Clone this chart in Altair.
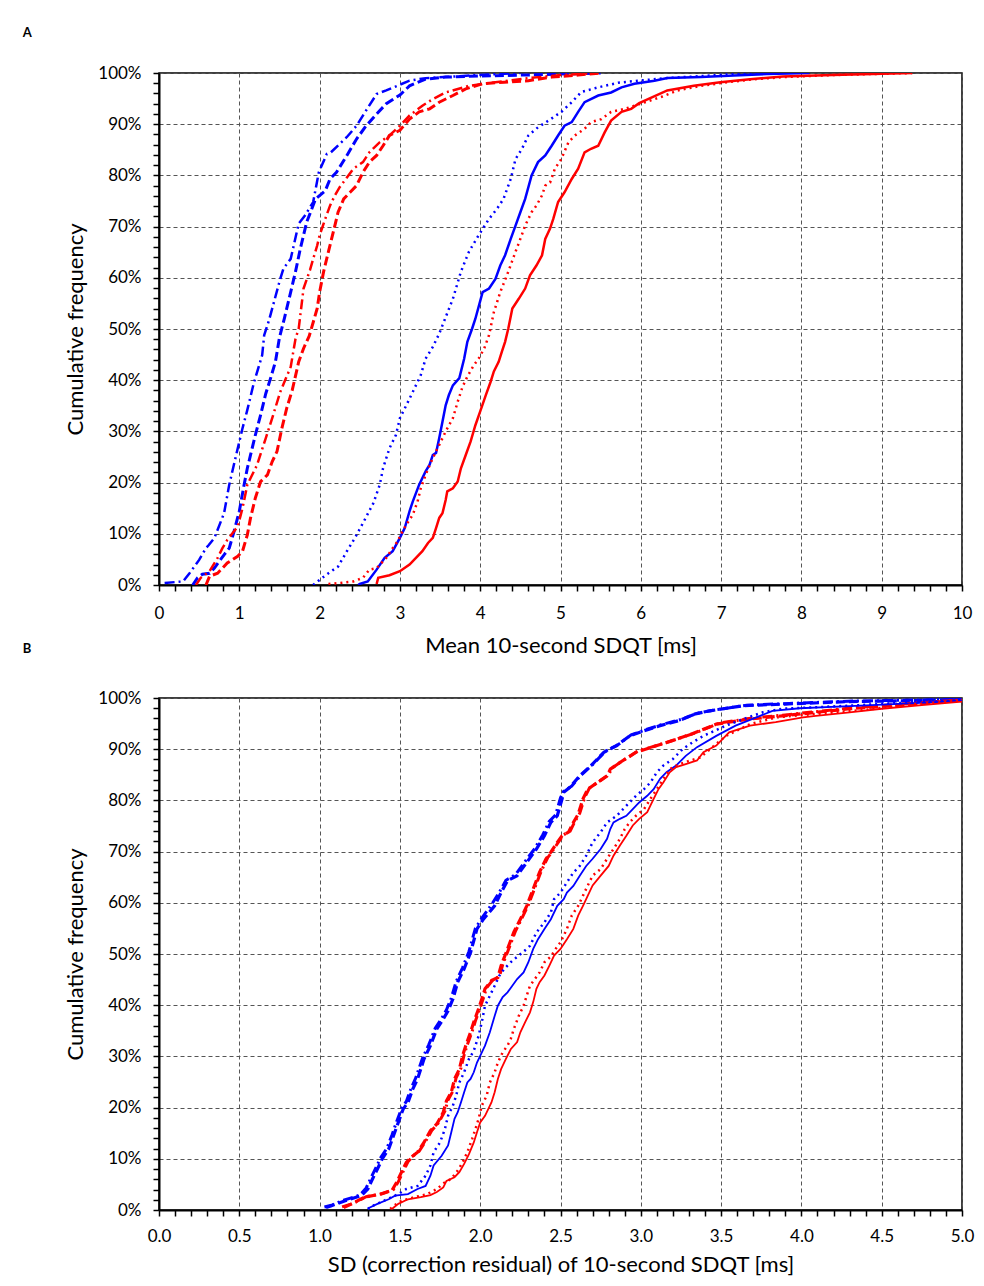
import altair as alt
import pandas as pd

# ---------------- Panel A: Mean 10-second SDQT [ms] ----------------
A_blue_dashdot_x = [0.07,0.30,0.38,0.50,0.585,0.62,0.69,0.81,0.875,0.955,1.04,1.10,1.18,1.285,1.31,1.37,1.51,1.55,1.64,1.74,1.82,1.92,1.99,2.09,2.14,2.34,2.46,2.58,2.71,2.83,3.12,3.32,3.98,4.5]
A_blue_dashdot_y = [0.4,0.7,2.3,4.9,7.2,7.8,9.2,14,19.6,25,30.6,34.2,39.4,44.9,48.8,51.7,59.8,61.8,63.7,70.6,72.2,74.8,80.6,84.2,84.5,87.5,89.7,92.7,95.9,96.6,98.5,99,99.6,100]

A_blue_dash_x = [0.42,0.48,0.54,0.63,0.69,0.81,0.875,0.935,1.00,1.06,1.10,1.14,1.20,1.265,1.33,1.39,1.45,1.50,1.56,1.62,1.70,1.76,1.84,1.95,2.07,2.13,2.21,2.34,2.46,2.58,2.71,2.83,3.00,3.12,3.32,3.57,3.98,4.8,5.5]
A_blue_dash_y = [0,1.4,2.1,2.3,3.3,5.9,7.2,10.5,14.4,19.6,22.8,25.4,29.3,33.2,37.4,40.4,43.6,48.3,52.0,55.9,61.2,65.7,70.9,75.4,77.0,79.3,80.6,83.9,87.1,89.7,92.0,94.0,95.7,97.5,98.8,99.2,99.4,99.7,100]

A_red_dashdot_x = [0.46,0.52,0.63,0.73,0.79,0.85,0.915,0.98,1.04,1.10,1.22,1.33,1.41,1.51,1.64,1.70,1.74,1.80,1.88,1.92,1.97,2.00,2.07,2.13,2.19,2.25,2.34,2.42,2.54,2.62,2.75,2.87,3.00,3.12,3.28,3.41,3.57,3.86,4.19,4.60,5.00,5.46]
A_red_dashdot_y = [0,1.4,2.7,5.3,7.2,8.8,10.1,11.4,15.0,19.6,23.4,28.7,32.6,37.7,42.6,48.1,50.1,57.9,61.5,63.7,66.3,68.3,71.5,74.1,76.1,77.7,79.6,81.3,82.6,84.5,86.5,87.8,89.7,91.7,93.6,94.9,96.2,97.5,98.2,99.0,99.6,100]

A_red_dash_x = [0.585,0.63,0.73,0.85,0.98,1.04,1.10,1.14,1.20,1.265,1.35,1.41,1.47,1.53,1.59,1.66,1.74,1.80,1.87,1.97,2.00,2.05,2.11,2.17,2.23,2.30,2.38,2.46,2.54,2.62,2.71,2.79,2.87,3.00,3.12,3.24,3.37,3.49,3.66,3.82,4.03,4.30,4.60,4.89,5.22,5.50]
A_red_dash_y = [0,1.7,2.3,4.3,5.6,6.6,9.8,13.1,17.0,20.2,21.5,24.1,26.1,30.6,34.5,38.1,43.6,46.2,48.6,54.0,57.2,61.2,65.1,68.9,72.8,75.4,76.7,78.0,80.6,82.6,83.9,85.8,87.8,88.8,91.0,92.4,93.0,94.3,95.6,96.9,97.9,98.2,98.5,99.2,99.6,100]

A_blue_dot_x = [1.92,2.00,2.11,2.23,2.34,2.44,2.56,2.67,2.75,2.79,2.87,2.95,3.00,3.08,3.16,3.26,3.32,3.41,3.49,3.53,3.66,3.76,3.86,3.98,4.11,4.21,4.29,4.38,4.44,4.52,4.60,4.72,4.85,5.01,5.14,5.26,5.47,5.72,5.96,6.33,7.16,7.65]
A_blue_dot_y = [0,1.0,2.3,3.6,6.6,9.2,12.7,16.0,19.6,22.8,26.7,29.3,32.6,35.1,37.7,41.0,44.2,46.5,49.1,50.7,55.9,61.2,65.1,68.3,71.5,73.5,75.4,79.3,83.2,85.2,87.8,89.4,90.7,92.4,94.3,96.3,97.2,98.1,98.5,99.0,99.8,100]

A_blue_solid_x = [2.48,2.50,2.60,2.71,2.81,2.91,3.00,3.06,3.12,3.16,3.24,3.32,3.37,3.41,3.45,3.49,3.53,3.57,3.61,3.66,3.74,3.80,3.84,3.90,3.94,4.03,4.11,4.19,4.25,4.31,4.38,4.44,4.50,4.56,4.64,4.72,4.81,4.89,4.97,5.05,5.14,5.22,5.30,5.47,5.63,5.76,5.92,6.17,6.33,6.75,7.16,7.57,8.10]
A_blue_solid_y = [0,0.2,0.7,3.0,5.3,6.6,9.2,11.1,14.4,16.3,19.6,22.2,23.5,25.4,25.8,28.7,31.9,35.1,37.1,39.0,40.4,44.2,47.5,50.1,52.0,57.2,57.9,59.8,62.4,64.4,67.6,70.2,72.8,75.4,80.0,82.6,83.9,85.8,87.8,89.7,90.4,92.4,94.3,95.6,96.2,97.2,97.9,98.5,99.0,99.2,99.5,99.8,100]

A_red_dot_x = [2.11,2.25,2.42,2.54,2.62,2.71,2.83,2.91,2.97,3.02,3.08,3.16,3.22,3.26,3.32,3.39,3.45,3.51,3.57,3.66,3.72,3.78,3.84,3.92,3.98,4.05,4.11,4.17,4.25,4.35,4.44,4.50,4.56,4.64,4.70,4.77,4.81,4.87,4.93,5.01,5.10,5.18,5.30,5.38,5.51,5.63,5.80,5.96,6.25,6.46,6.75,7.08,7.36,7.77,8.39,9.38]
A_red_dot_y = [0.2,0.4,0.7,1.4,3.0,3.3,5.3,7.2,8.5,10.1,11.8,13.7,16.3,18.9,21.5,24.1,26.1,28.0,30.0,32.6,35.8,38.7,40.7,42.9,44.2,46.2,48.8,53.3,57.2,61.2,65.1,67.6,70.2,72.8,74.1,76.1,78.0,78.6,81.3,83.2,86.5,87.8,89.1,90.4,91.0,92.4,93.0,93.8,95.3,96.6,97.5,98.2,98.7,99.2,99.6,100]

A_red_solid_x = [2.71,2.73,2.87,3.00,3.12,3.20,3.28,3.35,3.41,3.45,3.49,3.53,3.57,3.59,3.66,3.72,3.76,3.82,3.88,3.94,4.00,4.07,4.13,4.17,4.23,4.27,4.31,4.35,4.40,4.48,4.56,4.62,4.70,4.77,4.81,4.87,4.91,4.97,5.05,5.14,5.22,5.30,5.38,5.47,5.55,5.63,5.76,5.88,5.98,6.09,6.33,6.66,6.99,7.36,7.77,8.39,9.38]
A_red_solid_y = [0.2,1.4,1.9,2.7,4.0,5.3,6.6,8.2,9.2,11.1,13.1,14.0,16.6,18.3,18.9,20.2,22.8,25.4,28.0,31.2,33.9,37.1,39.7,41.7,43.6,45.6,47.5,50.1,54.0,55.9,57.9,60.5,62.4,64.4,67.6,69.6,71.5,74.8,76.7,79.3,81.3,84.5,85.2,85.8,88.4,90.7,92.4,93.0,94.1,94.9,96.6,97.5,98.2,98.8,99.3,99.6,100]

# ---------------- Panel B: SD (correction residual) ----------------
B_blue_dash_x = [1.04,1.07,1.16,1.26,1.30,1.33,1.36,1.39,1.43,1.46,1.49,1.52,1.55,1.58,1.61,1.65,1.69,1.73,1.77,1.80,1.83,1.86,1.90,1.94,1.98,2.02,2.09,2.13,2.17,2.23,2.29,2.35,2.40,2.44,2.48,2.51,2.52,2.56,2.62,2.69,2.77,2.85,2.93,3.02,3.12,3.24,3.34,3.43,3.64,3.88,4.30,4.71,5.00]
B_blue_dash_y = [0.5,0.8,1.8,2.8,4.1,6.1,8.0,10.0,11.9,14.5,17.1,19.7,21.0,23.6,25.6,29.5,32.1,35.4,37.3,38.9,41.2,44.5,47.1,50.3,54.9,56.8,59.4,62.0,64.3,65.3,67.9,70.5,73.1,75.7,77.0,80.3,81.6,82.6,84.8,86.8,89.4,90.7,92.6,93.6,94.6,95.6,96.9,97.5,98.5,98.8,99.3,99.5,99.7]

B_blue_dashdot_x = [1.03,1.08,1.15,1.25,1.29,1.32,1.35,1.38,1.42,1.45,1.48,1.51,1.54,1.57,1.60,1.64,1.68,1.72,1.76,1.79,1.82,1.85,1.89,1.93,1.97,2.01,2.07,2.12,2.16,2.22,2.28,2.34,2.39,2.43,2.47,2.50,2.52,2.57,2.63,2.70,2.78,2.86,2.94,3.03,3.13,3.25,3.35,3.45,3.66,3.90,4.32,4.72,5.00]
B_blue_dashdot_y = [0.6,1.0,1.9,2.9,4.3,6.3,8.2,10.2,12.1,14.6,17.3,19.8,21.2,23.8,25.9,29.6,32.3,35.5,37.4,39.1,41.4,44.6,47.3,50.5,55.0,57.0,59.6,62.1,64.4,65.5,68.1,70.6,73.3,75.9,77.2,80.5,81.8,82.8,85.0,87.0,89.6,90.9,92.8,93.8,94.8,95.8,97.0,97.6,98.6,98.9,99.4,99.6,99.8]

B_red_dash_x = [1.15,1.20,1.28,1.38,1.45,1.48,1.51,1.54,1.57,1.61,1.65,1.69,1.73,1.77,1.79,1.82,1.84,1.87,1.89,1.91,1.94,1.96,1.99,2.01,2.03,2.07,2.11,2.13,2.17,2.21,2.25,2.29,2.33,2.37,2.41,2.44,2.48,2.51,2.55,2.58,2.61,2.64,2.67,2.73,2.79,2.81,2.87,2.97,3.16,3.32,3.47,3.68,3.88,4.09,4.30,4.61,4.83,5.00]
B_red_dash_y = [0.5,1.2,2.5,3.1,3.8,5.4,7.4,9.3,10.3,11.3,13.2,15.5,16.8,19.1,21.3,23.0,25.6,27.5,30.1,32.1,34.7,36.7,39.3,41.2,43.2,44.8,45.4,47.7,51.0,54.3,56.8,59.4,62.7,66.0,68.6,69.9,71.8,73.1,73.8,75.7,77.3,80.3,82.2,83.5,84.8,86.1,87.4,89.4,91.3,93.0,94.9,95.9,96.5,97.2,97.9,98.6,99.2,99.5]

B_red_dashdot_x = [1.14,1.21,1.29,1.39,1.46,1.49,1.52,1.55,1.58,1.62,1.66,1.70,1.74,1.78,1.80,1.83,1.85,1.88,1.90,1.92,1.95,1.97,2.00,2.02,2.04,2.08,2.12,2.14,2.18,2.22,2.26,2.30,2.34,2.38,2.42,2.45,2.49,2.52,2.56,2.59,2.62,2.65,2.68,2.74,2.80,2.82,2.88,2.98,3.18,3.34,3.49,3.70,3.90,4.11,4.32,4.62,4.84,5.00]
B_red_dashdot_y = [0.6,1.3,2.6,3.2,4.0,5.5,7.5,9.4,10.5,11.5,13.4,15.6,17.0,19.3,21.5,23.2,25.8,27.7,30.3,32.3,34.9,36.9,39.5,41.4,43.4,45.0,45.6,47.9,51.2,54.5,57.0,59.6,62.9,66.2,68.8,70.1,72.0,73.3,74.0,75.9,77.5,80.5,82.4,83.7,85.0,86.3,87.6,89.6,91.5,93.2,95.1,96.1,96.7,97.4,98.1,98.8,99.3,99.6]

B_blue_dot_x = [1.30,1.33,1.40,1.49,1.54,1.61,1.66,1.69,1.71,1.75,1.78,1.80,1.83,1.85,1.87,1.90,1.93,1.96,1.99,2.01,2.03,2.07,2.09,2.12,2.15,2.19,2.24,2.29,2.31,2.35,2.40,2.44,2.46,2.50,2.54,2.58,2.62,2.66,2.70,2.75,2.79,2.85,2.89,2.93,2.97,3.02,3.06,3.10,3.14,3.20,3.26,3.32,3.39,3.53,3.64,3.76,3.88,4.30,4.71,5.00]
B_blue_dot_y = [0.2,0.8,1.8,3.1,4.1,4.7,6.7,8.7,11.3,13.2,15.8,18.4,20.4,22.3,24.9,26.9,29.5,31.1,34.0,36.7,39.9,42.5,43.8,45.8,47.1,48.4,49.7,51.0,51.6,54.2,56.2,58.1,60.7,62.0,64.0,65.9,67.2,69.2,71.8,73.8,75.7,77.0,78.3,79.6,80.9,82.2,83.5,85.5,86.8,88.1,90.0,91.3,92.6,94.6,95.9,97.2,97.9,98.5,99.2,99.5]

B_blue_solid_x = [1.30,1.36,1.43,1.47,1.55,1.61,1.66,1.69,1.71,1.76,1.80,1.82,1.84,1.86,1.88,1.90,1.92,1.94,1.96,1.98,2.00,2.03,2.06,2.09,2.11,2.14,2.17,2.20,2.23,2.27,2.30,2.33,2.36,2.40,2.44,2.48,2.52,2.54,2.58,2.62,2.66,2.70,2.75,2.79,2.81,2.83,2.87,2.91,2.95,2.99,3.04,3.08,3.12,3.16,3.22,3.28,3.35,3.47,3.59,3.72,3.82,3.99,4.30,4.71,5.00]
B_blue_solid_y = [0.3,1.2,2.1,2.8,3.1,4.1,4.7,6.7,8.7,10.6,12.6,15.2,17.8,19.1,21.0,23.0,24.9,25.6,26.9,28.8,30.1,32.1,34.7,37.9,39.9,41.6,42.5,43.8,45.1,46.4,48.4,51.0,52.9,54.9,56.8,59.4,60.7,62.0,63.3,65.3,67.2,68.6,70.5,72.5,74.4,75.7,76.4,77.0,78.3,79.6,80.9,82.2,84.2,85.5,86.8,88.7,90.4,92.6,94.6,96.2,97.5,98.0,98.4,99.0,99.5]

B_red_dot_x = [1.44,1.46,1.51,1.59,1.67,1.73,1.78,1.82,1.86,1.89,1.92,1.95,1.97,1.99,2.01,2.04,2.06,2.09,2.11,2.14,2.17,2.19,2.21,2.24,2.27,2.29,2.31,2.34,2.37,2.40,2.44,2.47,2.50,2.54,2.57,2.61,2.64,2.67,2.70,2.75,2.79,2.83,2.87,2.90,2.93,2.97,3.02,3.06,3.10,3.14,3.18,3.22,3.28,3.37,3.53,3.68,3.84,4.09,4.40,4.71,5.00]
B_red_dot_y = [0.2,0.8,1.8,2.5,3.1,4.1,5.4,6.1,7.7,9.3,11.3,13.9,15.8,17.8,20.4,22.3,24.9,26.9,28.8,30.8,32.1,33.4,35.4,37.9,39.9,41.9,43.8,45.1,46.4,48.4,49.5,51.0,52.3,54.9,57.5,59.4,61.4,63.4,65.3,66.6,68.6,70.5,72.5,74.4,75.7,77.0,78.3,80.3,82.2,84.2,86.1,86.8,87.5,88.4,92.6,94.9,96.2,96.9,97.7,98.8,99.5]

B_red_solid_x = [1.45,1.49,1.55,1.63,1.69,1.73,1.77,1.79,1.84,1.87,1.90,1.93,1.96,1.98,2.00,2.03,2.07,2.09,2.11,2.13,2.16,2.19,2.23,2.25,2.28,2.31,2.33,2.35,2.37,2.40,2.43,2.46,2.50,2.54,2.58,2.61,2.64,2.67,2.70,2.75,2.80,2.83,2.87,2.91,2.95,2.99,3.04,3.08,3.11,3.14,3.18,3.22,3.28,3.35,3.39,3.47,3.55,3.68,3.84,4.01,4.09,4.30,4.50,4.75,5.00]
B_red_solid_y = [0.2,1.2,2.1,2.5,2.9,3.5,4.4,5.7,6.4,7.4,9.0,10.9,13.2,15.2,17.1,18.4,21.0,23.0,25.6,27.5,29.5,31.4,32.8,34.7,36.7,38.6,40.6,43.2,44.5,45.8,47.7,49.7,51.0,52.9,54.9,57.5,59.4,61.4,63.4,65.3,67.2,69.2,71.2,73.1,75.1,76.4,77.7,80.3,82.2,83.5,85.5,86.5,87.1,87.8,89.4,90.7,93.3,94.6,95.3,96.2,96.5,97.2,97.9,98.6,99.3]

BLUE = "#0000ff"
RED = "#ff0000"
FONT = "Lato"

DASHDOT = [10, 4, 2, 4]
DASH = [9, 4]
DOT = [2, 4]

y_vals = [round(i * 0.02, 2) for i in range(51)]
Y_MAJOR = "abs(datum.value*10 - round(datum.value*10)) < 1e-6"


def y_axis():
    return alt.Axis(
        values=y_vals,
        labelExpr=f"{Y_MAJOR} ? format(datum.value, '.0%') : ''",
        gridOpacity={"condition": {"test": Y_MAJOR, "value": 1}, "value": 0},
        title="Cumulative frequency",
        labelOverlap=False,
        tickSize=6,
        labelPadding=12,
        titlePadding=10,
    )


def panel(series, xmax, x_vals, x_major, x_fmt, x_title, letter, title_offset,
          lab_pad, title_pad):
    x_enc = alt.X(
        "x:Q",
        scale=alt.Scale(domain=[0, xmax], nice=False, zero=False),
        axis=alt.Axis(
            values=x_vals,
            labelExpr=f"{x_major} ? format(datum.value, '{x_fmt}') : ''",
            gridOpacity={"condition": {"test": x_major, "value": 1}, "value": 0},
            title=x_title,
            labelOverlap=False,
            labelFlush=False,
            tickSize=6,
            labelPadding=lab_pad,
            titlePadding=title_pad,
        ),
    )
    y_enc = alt.Y("y:Q", scale=alt.Scale(domain=[0, 1], nice=False, zero=False), axis=y_axis())
    layers = []
    for xs, ys, color, dash, width in series:
        df = pd.DataFrame({"x": xs, "y": [v / 100.0 for v in ys], "i": list(range(len(xs)))})
        kw = dict(color=color, strokeWidth=width, clip=True, strokeCap="butt")
        if dash:
            kw["strokeDash"] = dash
        layers.append(
            alt.Chart(df).mark_line(**kw).encode(x=x_enc, y=y_enc, order=alt.Order("i:Q"))
        )
    return alt.layer(*layers).properties(
        width=803,
        height=512,
        title=alt.TitleParams(
            text=letter,
            anchor="start",
            frame="bounds",
            dx=-42,
            offset=title_offset,
            fontSize=13,
            fontWeight="bold",
            font=FONT,
            color="black",
        ),
    )


seriesA = [
    (A_blue_dashdot_x, A_blue_dashdot_y, BLUE, DASHDOT, 2.5),
    (A_blue_dash_x, A_blue_dash_y, BLUE, DASH, 3),
    (A_red_dashdot_x, A_red_dashdot_y, RED, DASHDOT, 2.5),
    (A_red_dash_x, A_red_dash_y, RED, DASH, 3),
    (A_blue_dot_x, A_blue_dot_y, BLUE, DOT, 2.5),
    (A_blue_solid_x, A_blue_solid_y, BLUE, None, 2.5),
    (A_red_dot_x, A_red_dot_y, RED, DOT, 2.5),
    (A_red_solid_x, A_red_solid_y, RED, None, 2.5),
]

seriesB = [
    (B_blue_dashdot_x, B_blue_dashdot_y, BLUE, DASHDOT, 3),
    (B_blue_dash_x, B_blue_dash_y, BLUE, DASH, 3.2),
    (B_red_dashdot_x, B_red_dashdot_y, RED, DASHDOT, 3),
    (B_red_dash_x, B_red_dash_y, RED, DASH, 3.2),
    (B_blue_dot_x, B_blue_dot_y, BLUE, DOT, 2.5),
    (B_blue_solid_x, B_blue_solid_y, BLUE, None, 1.8),
    (B_red_dot_x, B_red_dot_y, RED, DOT, 2.5),
    (B_red_solid_x, B_red_solid_y, RED, None, 1.8),
]

xA_vals = [round(i * 0.2, 1) for i in range(51)]
xA_major = "abs(datum.value - round(datum.value)) < 1e-6"
xB_vals = [round(i * 0.1, 1) for i in range(51)]
xB_major = "abs(datum.value*2 - round(datum.value*2)) < 1e-6"

chartA = panel(seriesA, 10, xA_vals, xA_major, "d", "Mean 10-second SDQT [ms]", "A", 24, 14, 14)
chartB = panel(seriesB, 5, xB_vals, xB_major, ".1f",
               "SD (correction residual) of 10-second SDQT [ms]", "B", 33, 12, 10)

chart = (
    alt.vconcat(chartA, chartB, spacing=-15)
    .properties(padding={"left": 14, "top": 18, "right": 0, "bottom": 0})
    .configure_view(stroke="black", strokeWidth=1.5)
    .configure_axis(
        labelFont=FONT,
        labelFontSize=17,
        labelColor="black",
        titleFont=FONT,
        titleFontSize=22,
        titleFontWeight="normal",
        titleColor="black",
        domainColor="black",
        domainWidth=2,
        tickColor="black",
        tickWidth=1.5,
        gridColor="#555555",
        gridDash=[4, 3],
        gridWidth=1,
    )
    .configure_title(font=FONT)
)

chart.save("out.html", embed_options={"renderer": "svg", "actions": False})
